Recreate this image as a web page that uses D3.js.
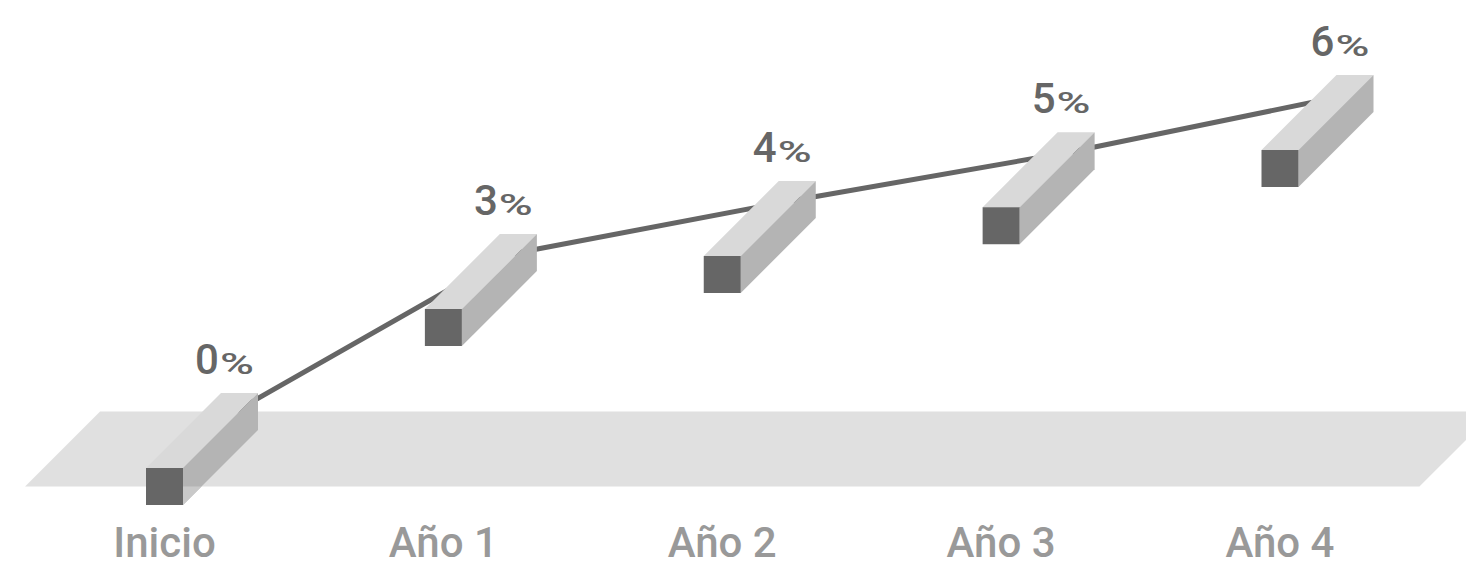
<!DOCTYPE html>
<html>
<head>
<meta charset="utf-8">
<script src="https://cdn.jsdelivr.net/npm/d3@7"></script>
<style>
  html, body { margin: 0; padding: 0; background: #ffffff; overflow: hidden; }
  svg { display: block; }
</style>
</head>
<body>
<div id="chart"></div>
<script>
const categories = ["Inicio", "Año 1", "Año 2", "Año 3", "Año 4"];
const values = [0, 3.0, 4.0, 4.92, 6.0];
const valueLabels = ["0", "3", "4", "5", "6"];
const valueSuffix = "%";

const W = 1466, H = 566;
const S = 37;      // bar cross-section
const D = 75;      // depth offset (x right, y up)

const svg = d3.select("#chart").append("svg")
  .attr("width", W).attr("height", H);

const x = d3.scalePoint().domain(categories).range([164.5, 1280]);
const y = d3.scaleLinear().domain([0, 6]).range([468, 150]);
const step = x.step();

// floor plane through middle of zero bar
const floorFrontY = y(0) + S / 2;
const floorBackY = floorFrontY - D;
const xl = x(categories[0]) - step / 2;
const xr = x(categories[categories.length - 1]) + step / 2;
svg.append("path")
  .attr("d", d3.line()([[xl, floorFrontY], [xr, floorFrontY], [xr + D, floorBackY], [xl + D, floorBackY]]) + "Z")
  .attr("fill", "#e0e0e0");

// connecting line (behind bars)
const pts = categories.map((c, i) => [x(c) + 68, y(values[i]) - 55]);
svg.append("path")
  .attr("d", d3.line()(pts))
  .attr("fill", "none")
  .attr("stroke", "#666666")
  .attr("stroke-width", 5);

// clip for part of bars below floor front edge
svg.append("defs").append("clipPath").attr("id", "belowFloor")
  .append("rect").attr("x", 0).attr("y", floorFrontY).attr("width", W).attr("height", H - floorFrontY);

const bars = svg.append("g");
categories.forEach((c, i) => {
  const fx = x(c) - S / 2, fy = y(values[i]);
  const g = bars.append("g");
  const top = [[fx, fy], [fx + S, fy], [fx + S + D, fy - D], [fx + D, fy - D]];
  const side = [[fx + S, fy], [fx + S + D, fy - D], [fx + S + D, fy - D + S], [fx + S, fy + S]];
  g.append("path").attr("d", d3.line()(top) + "Z").attr("fill", "#d9d9d9");
  g.append("path").attr("d", d3.line()(side) + "Z").attr("fill", "#b4b4b4");
  g.append("path").attr("d", d3.line()(side) + "Z").attr("fill", "#c9c9c9")
    .attr("clip-path", "url(#belowFloor)");
  g.append("rect").attr("x", fx).attr("y", fy).attr("width", S).attr("height", S).attr("fill", "#666666");

  // value label
  const t = svg.append("text")
    .attr("x", x(c) + 60).attr("y", fy - 94)
    .attr("text-anchor", "middle")
    .attr("font-family", "Roboto, 'Open Sans', sans-serif")
    .attr("font-weight", 500)
    .attr("fill", "#666666");
  t.append("tspan").attr("font-size", 42).text(valueLabels[i]);
  t.append("tspan").attr("font-size", 30).attr("dx", 1)
    .attr("textLength", 34).attr("lengthAdjust", "spacingAndGlyphs")
    .text(valueSuffix);

  // category label
  svg.append("text")
    .attr("x", x(c)).attr("y", 557)
    .attr("text-anchor", "middle")
    .attr("font-family", "Roboto, 'Open Sans', sans-serif")
    .attr("font-weight", 500)
    .attr("font-size", 42)
    .attr("fill", "#999999")
    .text(c);
});
</script>
</body>
</html>
